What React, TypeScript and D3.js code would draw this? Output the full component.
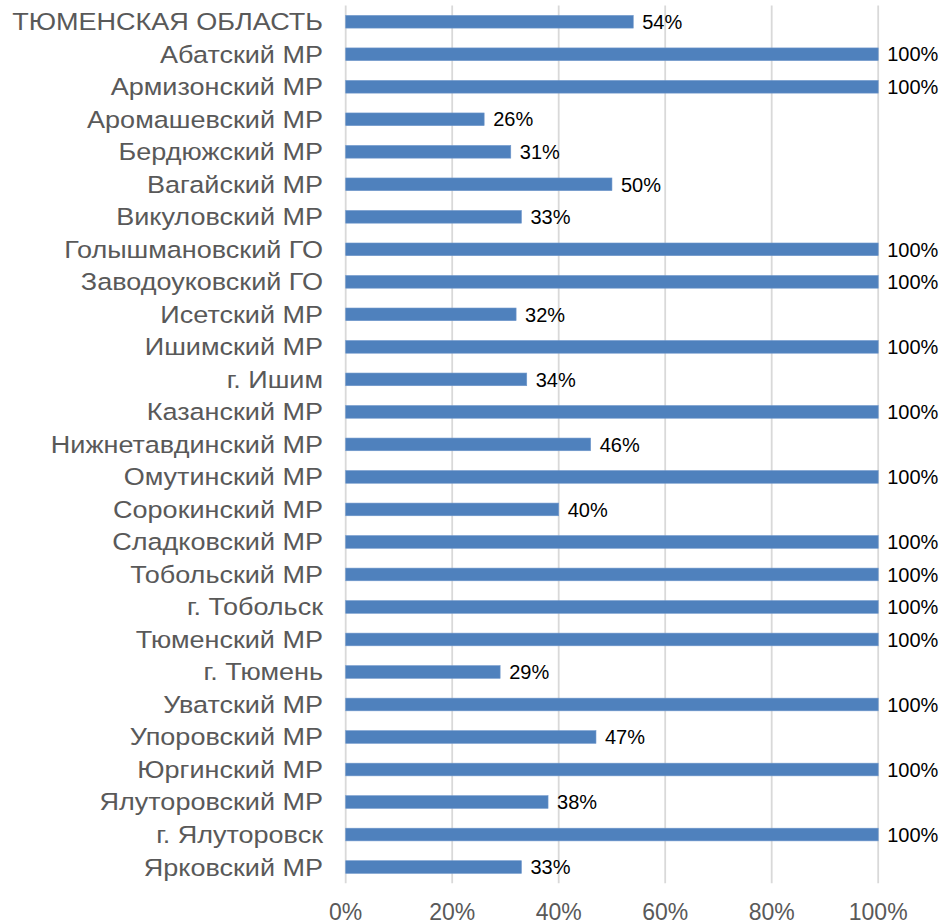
import React from "react";
import * as d3 from "d3";

const categories = [
  "ТЮМЕНСКАЯ ОБЛАСТЬ",
  "Абатский МР",
  "Армизонский МР",
  "Аромашевский МР",
  "Бердюжский МР",
  "Вагайский МР",
  "Викуловский МР",
  "Голышмановский ГО",
  "Заводоуковский ГО",
  "Исетский МР",
  "Ишимский МР",
  "г. Ишим",
  "Казанский МР",
  "Нижнетавдинский МР",
  "Омутинский МР",
  "Сорокинский МР",
  "Сладковский МР",
  "Тобольский МР",
  "г. Тобольск",
  "Тюменский МР",
  "г. Тюмень",
  "Уватский МР",
  "Упоровский МР",
  "Юргинский МР",
  "Ялуторовский МР",
  "г. Ялуторовск",
  "Ярковский МР",
];

const values = [
  54, 100, 100, 26, 31, 50, 33, 100, 100, 32, 100, 34, 100, 46, 100, 40, 100,
  100, 100, 100, 29, 100, 47, 100, 38, 100, 33,
];

const ticks = [0, 20, 40, 60, 80, 100];

const W = 946;
const H = 924;
const left = 345.7;
const right = 878.2;
const top = 5.5;
const bottom = 883.3;

export default function App() {
  const x = d3.scaleLinear().domain([0, 100]).range([left, right]);
  const y = d3
    .scaleBand<string>()
    .domain(categories)
    .range([top, bottom])
    .paddingInner(0.61)
    .paddingOuter(0.305);
  const font = "Arial, 'Liberation Sans', sans-serif";
  return (
    <svg
      width={W}
      height={H}
      style={{ position: "absolute", left: 0, top: 0 }}
      fontFamily={font}
    >
      <rect width={W} height={H} fill="#fff" />
      {ticks.map((t) => (
        <line
          key={t}
          x1={x(t)}
          x2={x(t)}
          y1={top}
          y2={bottom}
          stroke="#d9d9d9"
          strokeWidth={1.8}
        />
      ))}
      {categories.map((c, i) => {
        const yy = y(c)!;
        const bw = y.bandwidth();
        return (
          <g key={c}>
            <rect
              x={x(0)}
              y={yy}
              width={x(values[i]) - x(0)}
              height={bw}
              fill="#4f81bd"
              stroke="#6f97cb"
              strokeWidth={0.6}
            />
            <text
              transform={`translate(323,${yy + bw / 2}) scale(1.15,1)`}
              dy="0.36em"
              textAnchor="end"
              fontSize={23.5}
              fill="#595959"
            >
              {c}
            </text>
            <text
              x={x(values[i]) + 9}
              y={yy + bw / 2}
              dy="0.36em"
              fontSize={20}
              fill="#000"
            >
              {values[i]}%
            </text>
          </g>
        );
      })}
      {ticks.map((t) => (
        <text
          key={t}
          x={x(t)}
          y={920}
          textAnchor="middle"
          fontSize={23}
          fill="#595959"
        >
          {t}%
        </text>
      ))}
    </svg>
  );
}
